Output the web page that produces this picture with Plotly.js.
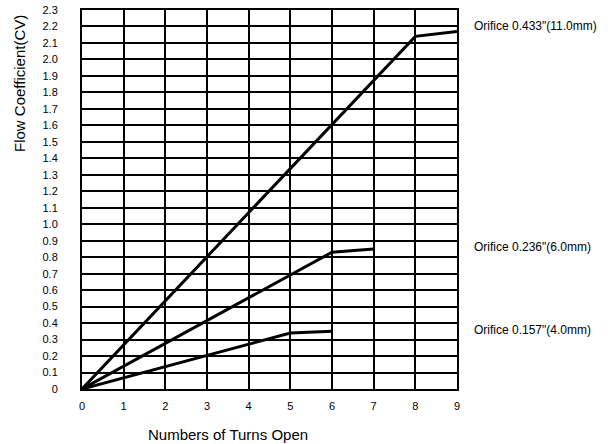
<!DOCTYPE html>
<html><head><meta charset="utf-8">
<script src="https://cdn.plot.ly/plotly-3.0.1.min.js"></script>
<style>html,body{margin:0;padding:0;background:#fff;}</style>
</head><body>
<div id="chart" style="width:608px;height:444px;"></div>
<script>
const turns11 = [0, 8, 9];
const cv11 = [0, 2.14, 2.17];
const turns6 = [0, 6, 7];
const cv6 = [0, 0.83, 0.85];
const turns4 = [0, 5, 6];
const cv4 = [0, 0.34, 0.35];
const seriesNames = ['Orifice 0.433"(11.0mm)', 'Orifice 0.236"(6.0mm)', 'Orifice 0.157"(4.0mm)'];
const labelY = [2.2, 0.86, 0.36];
const yTickVals = [0,0.1,0.2,0.3,0.4,0.5,0.6,0.7,0.8,0.9,1.0,1.1,1.2,1.3,1.4,1.5,1.6,1.7,1.8,1.9,2.0,2.1,2.2,2.3];
const yTickText = ['0','0.1','0.2','0.3','0.4','0.5','0.6','0.7','0.8','0.9','1.0','1.1','1.2','1.3','1.4','1.5','1.6','1.7','1.8','1.9','2.0','2.1','2.2','2.3'];
const xTickVals = [0,1,2,3,4,5,6,7,8,9];

const lineStyle = {color:'#000', width:3};
const traces = [
  {x:turns11, y:cv11, mode:'lines', line:lineStyle, name:seriesNames[0], hoverinfo:'skip'},
  {x:turns6, y:cv6, mode:'lines', line:lineStyle, name:seriesNames[1], hoverinfo:'skip'},
  {x:turns4, y:cv4, mode:'lines', line:lineStyle, name:seriesNames[2], hoverinfo:'skip'}
];
const family = '"Liberation Sans", Arial, sans-serif';
const font = {family:family, color:'#000', size:11};
const layout = {
  width:608, height:444,
  margin:{l:82, r:151, t:10, b:55},
  paper_bgcolor:'#fff', plot_bgcolor:'#fff',
  showlegend:false,
  font:font,
  xaxis:{range:[0,9], tickvals:xTickVals, showgrid:true, gridcolor:'#000', gridwidth:2,
    zeroline:false, showline:true, linecolor:'#000', linewidth:2, mirror:true,
    ticks:'', ticklabelstandoff:6, tickfont:font, fixedrange:true},
  yaxis:{range:[0,2.3], tickvals:yTickVals, ticktext:yTickText, showgrid:true, gridcolor:'#000', gridwidth:2,
    zeroline:false, showline:true, linecolor:'#000', linewidth:2, mirror:true,
    ticks:'', ticklabelstandoff:20, tickfont:font, fixedrange:true},
  annotations:[
    {text:'Flow Coefficient(CV)', textangle:-90, xref:'paper', yref:'paper', x:-0.165, xanchor:'center', y:0.805, yanchor:'middle', showarrow:false, font:{family:family, size:15, color:'#000'}},
    {text:'Numbers of Turns Open', xref:'paper', yref:'paper', x:0.389, xanchor:'center', y:-0.121, yanchor:'middle', showarrow:false, font:{family:family, size:15, color:'#000'}},
    ...seriesNames.map((n,i)=>({text:n, xref:'paper', yref:'y', x:1.04, xanchor:'left', y:labelY[i], yanchor:'middle', showarrow:false, font:{family:family, size:12, color:'#000'}}))
  ]
};
Plotly.newPlot('chart', traces, layout, {staticPlot:true, displayModeBar:false});
</script>
</body></html>
